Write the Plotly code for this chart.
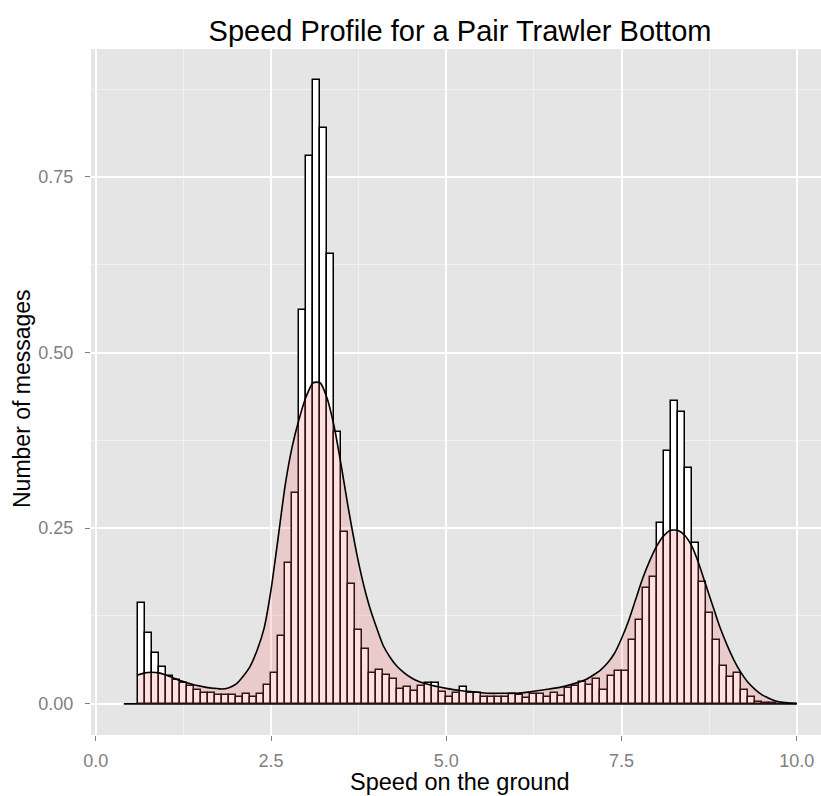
import numpy as np
import plotly.graph_objects as go

# ---------------- data ----------------
bin_width = 0.1
first_bin = 0.6          # left edge of the first non-empty bin
empty_bins_start = 0.4   # zero-count bins drawn as a flat line (0.4 - 0.6)
last_edge = 10.0

hist_density = [
    0.143, 0.101, 0.072, 0.052, 0.039, 0.034, 0.029, 0.025, 0.019, 0.016,   # 0.6 - 1.5
    0.015, 0.012, 0.012, 0.013, 0.009, 0.014, 0.009, 0.014, 0.027, 0.044,   # 1.6 - 2.5
    0.096, 0.200, 0.300, 0.560, 0.780, 0.888, 0.820, 0.640, 0.387, 0.245,   # 2.6 - 3.5
    0.170, 0.105, 0.078, 0.044, 0.048, 0.041, 0.036, 0.021, 0.024, 0.018,   # 3.6 - 4.5
    0.025, 0.029, 0.029, 0.017, 0.010, 0.015, 0.024, 0.015, 0.016, 0.009,   # 4.6 - 5.5
    0.010, 0.010, 0.010, 0.014, 0.013, 0.008, 0.014, 0.014, 0.010, 0.015,   # 5.6 - 6.5
    0.011, 0.022, 0.026, 0.031, 0.027, 0.036, 0.020, 0.040, 0.046, 0.046,   # 6.6 - 7.5
    0.091, 0.120, 0.165, 0.181, 0.258, 0.360, 0.431, 0.416, 0.335, 0.229,   # 7.6 - 8.5
    0.174, 0.129, 0.091, 0.054, 0.038, 0.044, 0.020, 0.010, 0.003, 0.001,   # 8.6 - 9.5
    0.0005, 0.0, 0.0, 0.0003,                                               # 9.6 - 9.9
]

dens_x = [0.6, 0.7, 0.8, 0.9, 1.0, 1.1, 1.2, 1.3, 1.4, 1.5, 1.6, 1.7, 1.8, 1.9,
          2.0, 2.1, 2.2, 2.3, 2.4, 2.5, 2.6, 2.7, 2.8, 2.9, 3.0, 3.1, 3.2, 3.3,
          3.4, 3.5, 3.6, 3.7, 3.8, 3.9, 4.0, 4.1, 4.2, 4.3, 4.4, 4.5, 4.6, 4.8,
          5.0, 5.2, 5.4, 5.6, 5.8, 6.0, 6.2, 6.4, 6.6, 6.8, 7.0, 7.1, 7.2, 7.3,
          7.4, 7.5, 7.6, 7.7, 7.8, 7.9, 8.0, 8.1, 8.2, 8.3, 8.4, 8.5, 8.6, 8.7,
          8.8, 8.9, 9.0, 9.1, 9.2, 9.3, 9.4, 9.5, 9.6, 9.7, 9.8, 9.9, 10.0]
dens_y = [0.041, 0.044, 0.045, 0.044, 0.041, 0.037, 0.033, 0.030, 0.027, 0.025,
          0.023, 0.022, 0.021, 0.023, 0.028, 0.039, 0.053, 0.076, 0.107, 0.162,
          0.235, 0.310, 0.365, 0.405, 0.437, 0.457, 0.457, 0.435, 0.395, 0.340,
          0.280, 0.225, 0.178, 0.140, 0.110, 0.083, 0.066, 0.053, 0.044, 0.037,
          0.032, 0.026, 0.022, 0.019, 0.017, 0.015, 0.015, 0.015, 0.017, 0.020,
          0.023, 0.028, 0.035, 0.041, 0.048, 0.058, 0.072, 0.093, 0.118, 0.148,
          0.178, 0.203, 0.224, 0.239, 0.247, 0.247, 0.240, 0.225, 0.200, 0.170,
          0.140, 0.110, 0.085, 0.063, 0.045, 0.031, 0.021, 0.013, 0.008, 0.004,
          0.002, 0.001, 0.0005]

x_ticks = [0.0, 2.5, 5.0, 7.5, 10.0]
y_ticks = [0.00, 0.25, 0.50, 0.75]

title_text = "Speed Profile for a Pair Trawler Bottom"
x_title = "Speed on the ground"
y_title = "Number of messages"

# ---------------- figure ----------------
bin_centers = [round(first_bin + bin_width * (i + 0.5), 3) for i in range(len(hist_density))]

FONT = "Liberation Sans, Arial, Helvetica, sans-serif"
GREY_TXT = "#7F7F7F"

fig = go.Figure()

# histogram bars
fig.add_trace(go.Bar(
    x=bin_centers, y=hist_density, width=bin_width,
    marker=dict(color="white", line=dict(color="black", width=1.5)),
    hoverinfo="skip", showlegend=False,
))

# baseline of the (empty) bins and the density bottom edge
fig.add_trace(go.Scatter(
    x=[empty_bins_start, last_edge], y=[0, 0], mode="lines",
    line=dict(color="black", width=1.8), hoverinfo="skip", showlegend=False,
))

# density area
fig.add_trace(go.Scatter(
    x=dens_x, y=dens_y, mode="lines", fill="tozeroy",
    fillcolor="rgba(255,102,102,0.2)",
    line=dict(color="black", width=1.6, shape="spline", smoothing=0.6),
    hoverinfo="skip", showlegend=False,
))

W, H = 821, 796
L, R, T, B = 91, 0, 49, 61
pw = W - L - R
ph = H - T - B

fig.update_layout(
    width=W, height=H, autosize=False,
    margin=dict(l=L, r=R, t=T, b=B, pad=0),
    paper_bgcolor="white", plot_bgcolor="#E5E5E5",
    bargap=0, barmode="overlay",
    font=dict(family=FONT, color="black"),
    title=dict(text=title_text, x=460 / W, xref="container", xanchor="center",
               y=(H - 31) / H, yref="container", yanchor="middle",
               font=dict(size=29, color="black", family=FONT)),
    showlegend=False,
)

fig.update_xaxes(
    range=[-0.068, (W - L) / 70.1 - 0.068],
    tickvals=x_ticks, tickformat=".1f",
    ticks="outside", ticklen=5, tickwidth=1, tickcolor=GREY_TXT,
    tickfont=dict(size=18, color=GREY_TXT, family=FONT),
    ticklabelstandoff=4,
    showgrid=True, gridcolor="white", gridwidth=1.6,
    minor=dict(dtick=1.25, tick0=0, showgrid=True, gridcolor="#F2F2F2", gridwidth=0.8, ticks=""),
    zeroline=False, showline=False,
)
fig.update_yaxes(
    range=[-0.0444, 0.932],
    tickvals=y_ticks, tickformat=".2f",
    ticks="outside", ticklen=5, tickwidth=1, tickcolor=GREY_TXT,
    tickfont=dict(size=18, color=GREY_TXT, family=FONT),
    ticklabelstandoff=8,
    showgrid=True, gridcolor="white", gridwidth=1.6,
    minor=dict(dtick=0.125, tick0=0, showgrid=True, gridcolor="#F2F2F2", gridwidth=0.8, ticks=""),
    zeroline=False, showline=False,
)

fig.add_annotation(text=x_title, xref="paper", yref="paper",
                   x=(460 - L) / pw, y=(H - B - 782) / ph,
                   xanchor="center", yanchor="middle", showarrow=False,
                   font=dict(size=23.5, color="black", family=FONT))
fig.add_annotation(text=y_title, xref="paper", yref="paper",
                   x=(22 - L) / pw, y=(H - B - 399) / ph, textangle=-90,
                   xanchor="center", yanchor="middle", showarrow=False,
                   font=dict(size=23, color="black", family=FONT))

fig.write_html("out.html")
